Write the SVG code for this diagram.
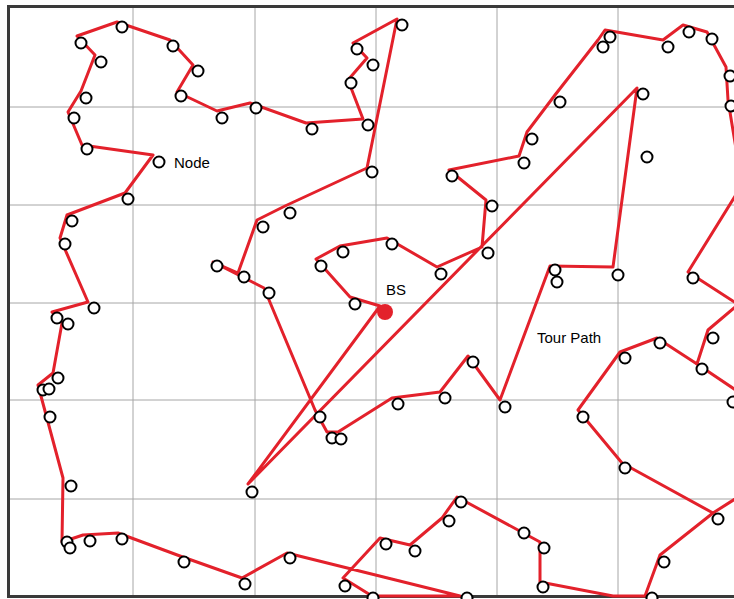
<svg xmlns="http://www.w3.org/2000/svg" width="734" height="599" viewBox="0 0 734 599">
<style>
.grid{stroke:#a6a6a6;stroke-width:1;fill:none}
.frame{stroke:#3a3a3a;stroke-width:3;fill:none}
.tour{stroke:#e3212b;stroke-width:3;fill:none;stroke-linejoin:round;stroke-linecap:round}
.node circle{fill:#fff;stroke:#000;stroke-width:2}
.lbl{font-family:"Liberation Sans",Arial,sans-serif;font-size:15px;fill:#000}
</style>
<rect x="0" y="0" width="734" height="599" fill="#fff"/>
<g id="grid">
<path class="grid" d="M133,7V597M255,7V597M376,7V597M497,7V597M618,7V597M8,107H734M8,205H734M8,303H734M8,400H734M8,499H734"/>
</g>
<rect class="frame" x="8.5" y="6.5" width="740" height="590"/>
<g id="connectors">
<polyline class="tour" points="380,306 350,297 316,259 340,246 387,238 437,267 482,247 486,200 449,170 519,156 527,132 555,95 598,40 605,30 663,40 683,25 707,32 726,67 728,100 742,185 688,272 770,325 760,286 708,330 697,364 657,338 620,352 578,410 622,463 713,513 660,555 645,596 613,596 540,582 540,542 457,497 442,518 410,545 380,538 343,578 372,596 460,596 287,553 242,578 180,556 118,533 83,535 62,542 63,478 38,385 53,373 62,323 52,312 88,302 60,238 67,215 125,193 153,155 82,145 68,112 81,91 95,55 77,36 117,22 170,40 193,65 177,92 217,111 250,103 306,123 363,119 348,80 367,58 353,43 397,19 367,168 285,206 257,220 238,273 213,262 264,288 315,410 327,432 338,432 392,398 440,392 468,356 500,400 550,266 613,267 637,88 248,484 380,306"/>
<polyline class="tour" points="697,364 770,413 760,483 713,513"/>
</g>
<g id="nodes" class="node">
<g id="n1"><circle cx="122" cy="27" r="5.5"/></g>
<g id="n2"><circle cx="81" cy="43" r="5.5"/></g>
<g id="n3"><circle cx="101" cy="62" r="5.5"/></g>
<g id="n4"><circle cx="173" cy="46" r="5.5"/></g>
<g id="n5"><circle cx="198" cy="71" r="5.5"/></g>
<g id="n6"><circle cx="181" cy="96" r="5.5"/></g>
<g id="n7"><circle cx="222" cy="118" r="5.5"/></g>
<g id="n8"><circle cx="256" cy="108" r="5.5"/></g>
<g id="n9"><circle cx="312" cy="129" r="5.5"/></g>
<g id="n10"><circle cx="368" cy="125" r="5.5"/></g>
<g id="n11"><circle cx="357" cy="49" r="5.5"/></g>
<g id="n12"><circle cx="373" cy="65" r="5.5"/></g>
<g id="n13"><circle cx="351" cy="83" r="5.5"/></g>
<g id="n14"><circle cx="402" cy="25" r="5.5"/></g>
<g id="n15"><circle cx="372" cy="172" r="5.5"/></g>
<g id="n16"><circle cx="86" cy="98" r="5.5"/></g>
<g id="n17"><circle cx="74" cy="118" r="5.5"/></g>
<g id="n18"><circle cx="87" cy="149" r="5.5"/></g>
<g id="n19"><circle cx="159" cy="162" r="5.5"/></g>
<g id="n20"><circle cx="128" cy="199" r="5.5"/></g>
<g id="n21"><circle cx="72" cy="221" r="5.5"/></g>
<g id="n22"><circle cx="65" cy="244" r="5.5"/></g>
<g id="n23"><circle cx="94" cy="308" r="5.5"/></g>
<g id="n24"><circle cx="57" cy="318" r="5.5"/></g>
<g id="n25"><circle cx="68" cy="324" r="5.5"/></g>
<g id="n26"><circle cx="58" cy="378" r="5.5"/></g>
<g id="n27"><circle cx="43" cy="390" r="5.5"/></g>
<g id="n28"><circle cx="49" cy="389" r="5.5"/></g>
<g id="n29"><circle cx="50" cy="417" r="5.5"/></g>
<g id="n30"><circle cx="71" cy="486" r="5.5"/></g>
<g id="n31"><circle cx="67" cy="542" r="5.5"/></g>
<g id="n32"><circle cx="70" cy="548" r="5.5"/></g>
<g id="n33"><circle cx="90" cy="541" r="5.5"/></g>
<g id="n34"><circle cx="122" cy="539" r="5.5"/></g>
<g id="n35"><circle cx="184" cy="562" r="5.5"/></g>
<g id="n36"><circle cx="245" cy="584" r="5.5"/></g>
<g id="n37"><circle cx="290" cy="558" r="5.5"/></g>
<g id="n38"><circle cx="345" cy="586" r="5.5"/></g>
<g id="n39"><circle cx="386" cy="544" r="5.5"/></g>
<g id="n40"><circle cx="415" cy="551" r="5.5"/></g>
<g id="n41"><circle cx="449" cy="521" r="5.5"/></g>
<g id="n42"><circle cx="461" cy="502" r="5.5"/></g>
<g id="n43"><circle cx="524" cy="533" r="5.5"/></g>
<g id="n44"><circle cx="544" cy="548" r="5.5"/></g>
<g id="n45"><circle cx="543" cy="587" r="5.5"/></g>
<g id="n46"><circle cx="467" cy="598" r="5.5"/></g>
<g id="n47"><circle cx="373" cy="598" r="5.5"/></g>
<g id="n48"><circle cx="652" cy="598" r="5.5"/></g>
<g id="n49"><circle cx="664" cy="562" r="5.5"/></g>
<g id="n50"><circle cx="718" cy="519" r="5.5"/></g>
<g id="n51"><circle cx="625" cy="468" r="5.5"/></g>
<g id="n52"><circle cx="583" cy="417" r="5.5"/></g>
<g id="n53"><circle cx="625" cy="358" r="5.5"/></g>
<g id="n54"><circle cx="660" cy="343" r="5.5"/></g>
<g id="n55"><circle cx="713" cy="338" r="5.5"/></g>
<g id="n56"><circle cx="702" cy="369" r="5.5"/></g>
<g id="n57"><circle cx="733" cy="402" r="5.5"/></g>
<g id="n58"><circle cx="693" cy="278" r="5.5"/></g>
<g id="n59"><circle cx="618" cy="275" r="5.5"/></g>
<g id="n60"><circle cx="555" cy="270" r="5.5"/></g>
<g id="n61"><circle cx="557" cy="282" r="5.5"/></g>
<g id="n62"><circle cx="647" cy="157" r="5.5"/></g>
<g id="n63"><circle cx="643" cy="94" r="5.5"/></g>
<g id="n64"><circle cx="560" cy="102" r="5.5"/></g>
<g id="n65"><circle cx="603" cy="47" r="5.5"/></g>
<g id="n66"><circle cx="610" cy="37" r="5.5"/></g>
<g id="n67"><circle cx="668" cy="47" r="5.5"/></g>
<g id="n68"><circle cx="689" cy="32" r="5.5"/></g>
<g id="n69"><circle cx="712" cy="39" r="5.5"/></g>
<g id="n70"><circle cx="730" cy="76" r="5.5"/></g>
<g id="n71"><circle cx="731" cy="106" r="5.5"/></g>
<g id="n72"><circle cx="532" cy="139" r="5.5"/></g>
<g id="n73"><circle cx="524" cy="163" r="5.5"/></g>
<g id="n74"><circle cx="452" cy="176" r="5.5"/></g>
<g id="n75"><circle cx="492" cy="206" r="5.5"/></g>
<g id="n76"><circle cx="488" cy="253" r="5.5"/></g>
<g id="n77"><circle cx="441" cy="274" r="5.5"/></g>
<g id="n78"><circle cx="392" cy="244" r="5.5"/></g>
<g id="n79"><circle cx="343" cy="252" r="5.5"/></g>
<g id="n80"><circle cx="321" cy="266" r="5.5"/></g>
<g id="n81"><circle cx="355" cy="304" r="5.5"/></g>
<g id="n82"><circle cx="263" cy="227" r="5.5"/></g>
<g id="n83"><circle cx="290" cy="213" r="5.5"/></g>
<g id="n84"><circle cx="217" cy="266" r="5.5"/></g>
<g id="n85"><circle cx="244" cy="277" r="5.5"/></g>
<g id="n86"><circle cx="269" cy="293" r="5.5"/></g>
<g id="n87"><circle cx="320" cy="417" r="5.5"/></g>
<g id="n88"><circle cx="332" cy="438" r="5.5"/></g>
<g id="n89"><circle cx="341" cy="439" r="5.5"/></g>
<g id="n90"><circle cx="398" cy="404" r="5.5"/></g>
<g id="n91"><circle cx="445" cy="398" r="5.5"/></g>
<g id="n92"><circle cx="473" cy="362" r="5.5"/></g>
<g id="n93"><circle cx="505" cy="407" r="5.5"/></g>
<g id="n94"><circle cx="252" cy="492" r="5.5"/></g>
</g>
<g id="bs"><circle cx="385" cy="312" r="8" fill="#e3212b"/></g>
<g id="labels">
<text class="lbl" x="174" y="168">Node</text>
<text class="lbl" x="386" y="295">BS</text>
<text class="lbl" x="537" y="343">Tour Path</text>
</g>
</svg>
